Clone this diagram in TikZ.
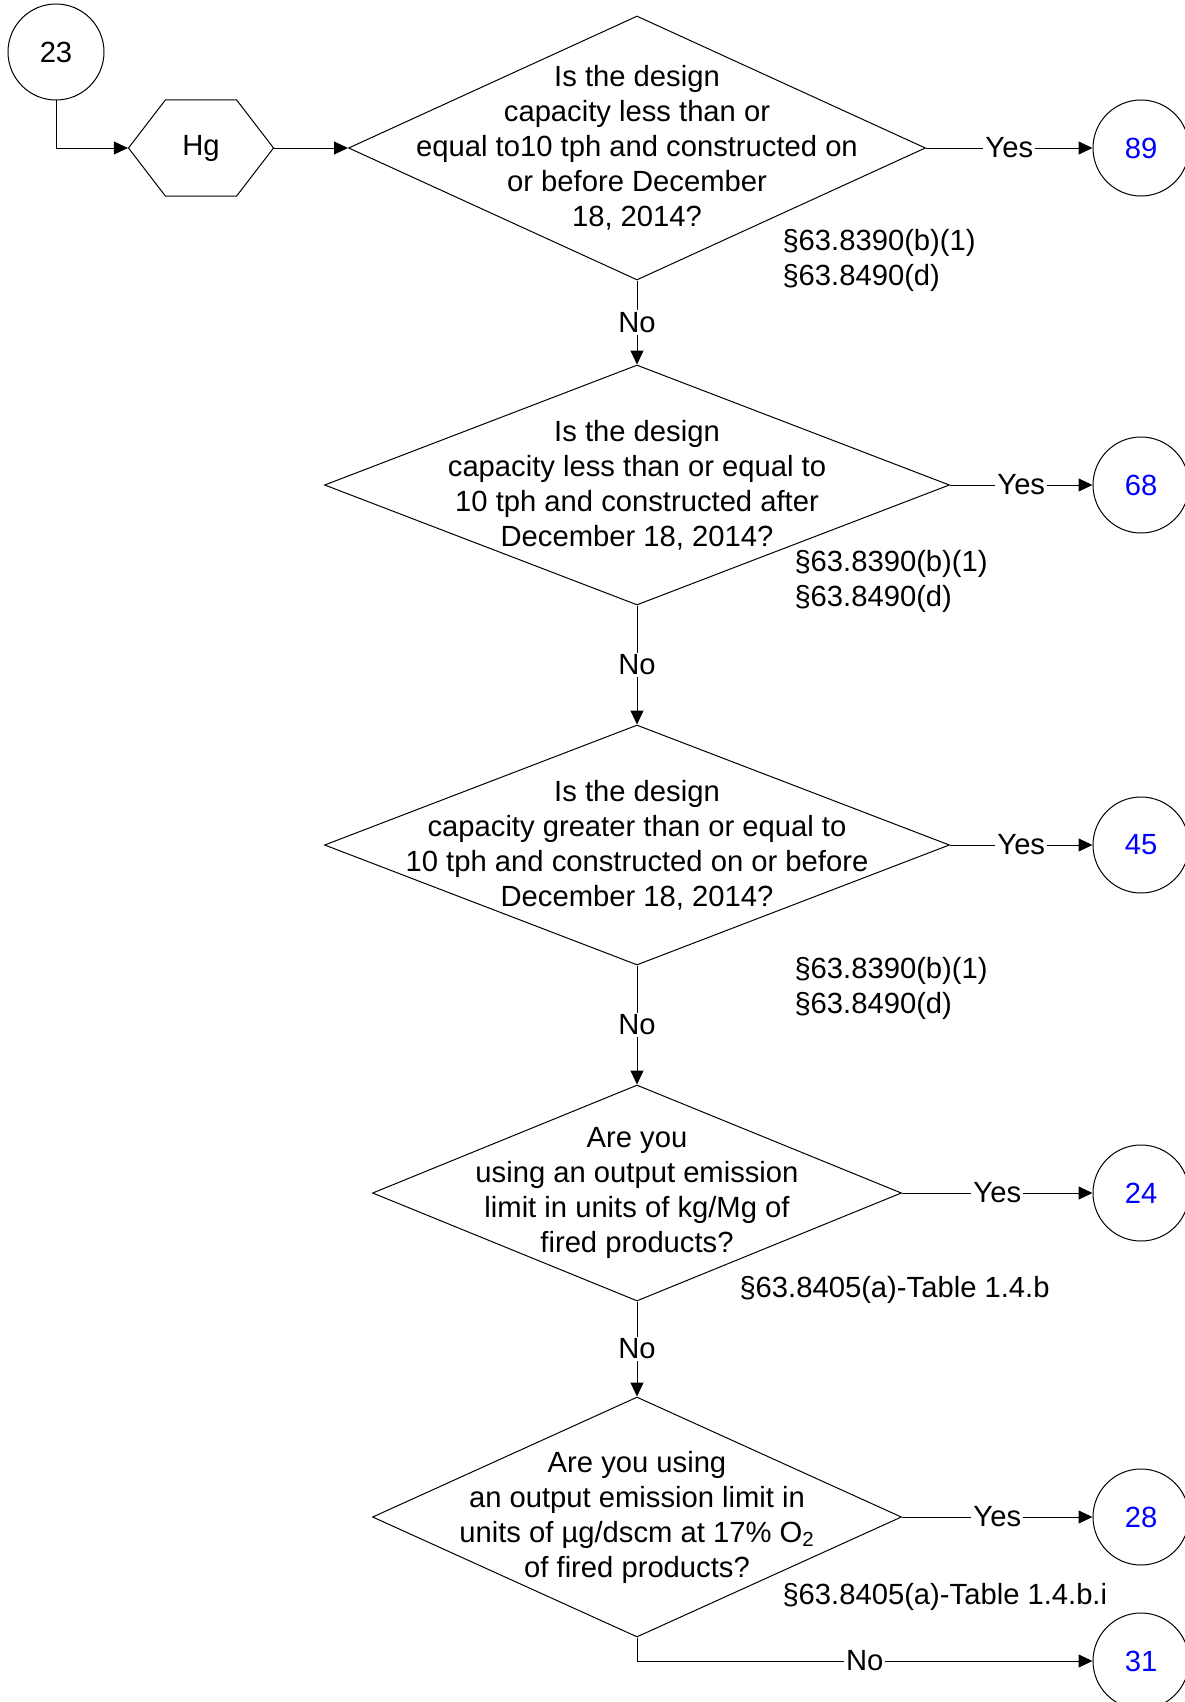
\documentclass[tikz,border=0pt]{standalone}
\usepackage{fontspec}
\setmainfont{Liberation Sans}
\usetikzlibrary{shapes,arrows.meta}

\begin{document}
\begin{tikzpicture}[x=0.5pt, y=-0.5pt, line width=0.5pt,
  font=\fontsize{14.6}{17.5}\selectfont,
  >={Triangle[length=7pt,width=6.5pt]}]
\tikzset{
  conn/.style={draw=black, ->},
  decision/.style={draw, shape=diamond, inner sep=0pt},
  question/.style={align=center, inner sep=0pt},
  offpage/.style={draw, circle, minimum size=48pt, inner sep=0pt},
  hexa/.style={draw, shape=signal, signal to=west and east, signal pointer angle=105,
    minimum width=72.5pt, minimum height=48pt, inner sep=0pt},
  answer/.style={fill=white, inner sep=1pt},
  cite/.style={anchor=west, align=left, inner sep=0pt},
}
\useasboundingbox (0,0) rectangle (1184,1702);

\node[offpage] (c23) at (56,52) {23};
\node[hexa] (hg) at (201,148) {Hg};

\node[decision, minimum width=288.5pt, minimum height=132pt,
  label={[question]center:{Is the design\\capacity less than or\\equal to10 tph and constructed on\\or before December\\18, 2014?}}] (d1) at (637,148) {};
\node[decision, minimum width=312.5pt, minimum height=120pt,
  label={[question]center:{Is the design\\capacity less than or equal to\\10 tph and constructed after\\December 18, 2014?}}] (d2) at (637,485) {};
\node[decision, minimum width=312.5pt, minimum height=120pt,
  label={[question]center:{Is the design\\capacity greater than or equal to\\10 tph and constructed on or before\\December 18, 2014?}}] (d3) at (637,845) {};
\node[decision, minimum width=264.5pt, minimum height=108pt,
  label={[question]center:{Are you\\using an output emission\\limit in units of kg/Mg of\\fired products?}}] (d4) at (637,1193) {};
\node[decision, minimum width=264.5pt, minimum height=120pt,
  label={[question]center:{Are you using\\an output emission limit in\\units of µg/dscm at 17\% O\textsubscript{2}\\of fired products?}}] (d5) at (637,1517) {};

% citations
\node[cite] (r1) at (782,260) {§63.8390(b)(1)\\§63.8490(d)};
\node[cite] (r2) at (794,581) {§63.8390(b)(1)\\§63.8490(d)};
\node[cite] (r3) at (794,988) {§63.8390(b)(1)\\§63.8490(d)};
\node[cite] (r4) at (739,1290) {§63.8405(a)-Table 1.4.b};
\node[cite] (r5) at (782,1597) {§63.8405(a)-Table 1.4.b.i};

% off-page connectors
\node[offpage, text=blue] (c89) at (1141,148) {89};
\node[offpage, text=blue] (c68) at (1141,485) {68};
\node[offpage, text=blue] (c45) at (1141,845) {45};
\node[offpage, text=blue] (c24) at (1141,1193) {24};
\node[offpage, text=blue] (c28) at (1141,1517) {28};
\node[offpage, text=blue] (c31) at (1141,1661) {31};

\draw[conn] (c23.south) |- (hg.west);
\draw[conn] (hg.east) -- (d1.west);
\draw[conn] (d1.east) -- node[answer]{Yes} (c89.west);
\draw[conn] (d1.south) -- node[answer]{No} (d2.north);
\draw[conn] (d2.east) -- node[answer]{Yes} (c68.west);
\draw[conn] (d2.south) -- node[answer]{No} (d3.north);
\draw[conn] (d3.east) -- node[answer]{Yes} (c45.west);
\draw[conn] (d3.south) -- node[answer]{No} (d4.north);
\draw[conn] (d4.east) -- node[answer]{Yes} (c24.west);
\draw[conn] (d4.south) -- node[answer]{No} (d5.north);
\draw[conn] (d5.east) -- node[answer]{Yes} (c28.west);
\draw[conn] (d5.south) |- node[answer, pos=0.75]{No} (c31.west);
\end{tikzpicture}
\end{document}
